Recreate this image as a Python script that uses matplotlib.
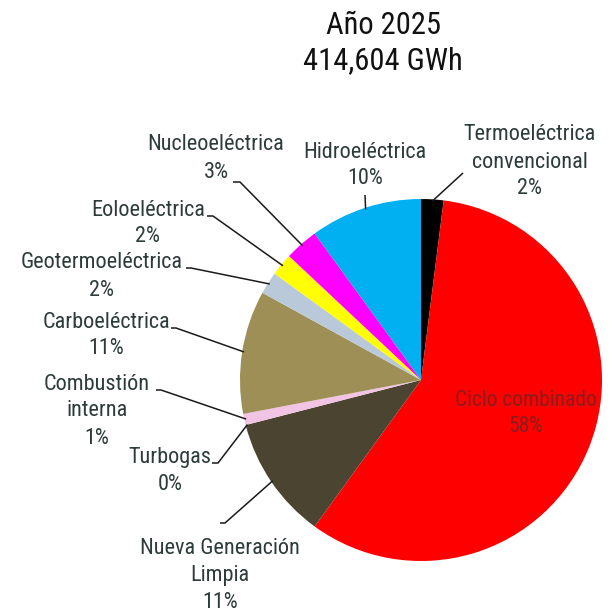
import numpy as np
import matplotlib
matplotlib.use("Agg")
import matplotlib.pyplot as plt
from matplotlib import font_manager

# Generation mix, clockwise from the top
categories = ["Termoeléctrica\nconvencional", "Ciclo combinado", "Nueva Generación\nLimpia",
              "Turbogas", "Combustión\ninterna", "Carboeléctrica", "Geotermoeléctrica",
              "Eoloeléctrica", "Nucleoeléctrica", "Hidroeléctrica"]
shares = [2, 58, 11, 0, 1, 11, 2, 2, 3, 10]
colors = ["#000000", "#ff0000", "#4b4430", "#7f7f7f", "#f2c4e4", "#9d8f55",
          "#b9c9da", "#ffff00", "#ff00ff", "#00b0f0"]
title_lines = ["Año 2025", "414,604 GWh"]

W = H = 613
fig = plt.figure(figsize=(W / 100, H / 100), dpi=100)
ax = fig.add_axes([0, 0, 1, 1])


def py(y):
    # pixel row (top-down) -> axes y
    return H - y


avail = {f.name for f in font_manager.fontManager.ttflist}
narrow = ["Roboto Condensed", "Liberation Sans Narrow", "Open Sans Condensed",
          "Arial Narrow", "Roboto", "DejaVu Sans"]
label_font = [f for f in narrow if f in avail] or ["DejaVu Sans"]
title_font = label_font

cx, cy, R = 421, py(380), 181
wedges, _ = ax.pie(shares, colors=colors, startangle=90, counterclock=False,
                   center=(cx, cy), radius=R, frame=True,
                   wedgeprops=dict(linewidth=0))
ax.set_xlim(0, W)
ax.set_ylim(0, H)
ax.set_aspect("equal")
ax.axis("off")

text_color = "#2e3b3b"
fs = 16
step = 27

# (text x, first-line centre y, tail start x, tail y, tail end x) in pixel rows
label_layout = {
    0: (530, 135, 463, 173, 463),
    9: (365, 152, 365, 195, 365),
    8: (216, 145, 233, 182, 240),
    7: (148, 210, 207, 216, 213),
    6: (102, 263, 186, 268, 191),
    5: (106, 322, 171, 328, 176),
    4: (97, 384, 156, 390, 161),
    3: (170, 458, 212, 463, 218),
    2: (220, 548, 220, 523, 225),
}


def put_lines(x, y0, lines, color, size):
    for k, s in enumerate(lines):
        ax.text(x, py(y0 + k * step), s, ha="center", va="center", fontsize=size,
                family=label_font, color=color)


for i, (tx, ty, lx0, ly, lx1) in label_layout.items():
    put_lines(tx, ty, categories[i].split("\n") + [f"{shares[i]}%"], text_color, fs)
    w = wedges[i]
    mid = np.deg2rad((w.theta1 + w.theta2) / 2)
    ex, ey = cx + 0.99 * R * np.cos(mid), cy + 0.99 * R * np.sin(mid)
    ax.plot([lx0, lx1, ex], [py(ly), py(ly), ey], color="#1a1a1a", lw=1.1,
            solid_capstyle="butt", zorder=3)

# label inside the largest wedge
put_lines(526, 400, [categories[1], f"{shares[1]}%"], "#8c1c1c", 15.5)

for k, s in enumerate(title_lines):
    ax.text(383, py(25 + k * 36), s, ha="center", va="center",
            fontsize=22, family=title_font, color="#111111")

fig.savefig("out.png", dpi=100, facecolor="white")
